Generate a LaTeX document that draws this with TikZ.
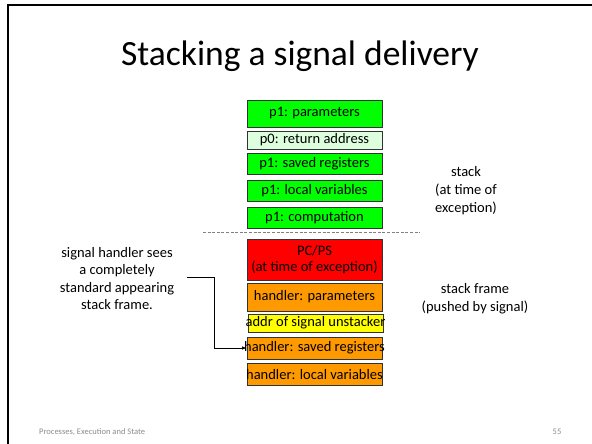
\documentclass[tikz,border=0pt]{standalone}
\usepackage{fontspec}
\setmainfont{Carlito}
\usetikzlibrary{arrows.meta}
\definecolor{boxline}{HTML}{333333}
\definecolor{framegreen}{HTML}{00FF00}
\definecolor{palegreen}{HTML}{DDFFDD}
\definecolor{framered}{HTML}{FF0000}
\definecolor{frameorange}{HTML}{FF9900}
\definecolor{frameyellow}{HTML}{FFFF00}
\definecolor{footgray}{HTML}{8C8C8C}
\definecolor{dashgray}{HTML}{808080}
\tikzset{
  stackbox/.style={draw=boxline, line width=0.9pt, minimum width=135pt,
    inner sep=0pt, font=\fontsize{14.5}{17}\selectfont},
  sidenote/.style={align=center, font=\fontsize{14.5}{18}\selectfont},
  pointer/.style={line width=0.7pt, -{Latex[length=4.5pt,width=3.5pt]}},
}
% fixed-width box label: the text may spill past the box edges
\newcommand{\spill}[1]{\makebox[0pt]{#1}}
\begin{document}
\begin{tikzpicture}[x=1pt,y=-1pt]
  \useasboundingbox (0,0) rectangle (592,444);
  \fill[white] (0,0) rectangle (592,444);
  % slide frame
  \draw[line width=2pt] (8,444) -- (8,5) -- (592,5);

  % title
  \node[anchor=base, font=\fontsize{35.5}{40}\selectfont] (title) at (300,65.5) {Stacking a signal delivery};

  % process p1 stack at the time of the exception
  \node[stackbox, fill=framegreen, minimum height=27pt] (p1par)  at (314.5,113.5) {\spill{p1: parameters}};
  \node[stackbox, fill=palegreen,  minimum height=18pt] (p0ret)  at (314.5,140)   {\spill{p0: return address}};
  \node[stackbox, fill=framegreen, minimum height=21pt] (p1save) at (314.5,163.5) {\spill{p1: saved registers}};
  \node[stackbox, fill=framegreen, minimum height=21pt] (p1loc)  at (314.5,190.5) {\spill{p1: local variables}};
  \node[stackbox, fill=framegreen, minimum height=21pt] (p1comp) at (314.5,217.5) {\spill{p1: computation}};

  % divider between the interrupted stack and the pushed frame
  \coordinate (divl) at (203,232);
  \coordinate (divr) at (420,232);
  \draw[dashgray, line width=1pt, dash pattern=on 3pt off 1.6pt] (divl) -- (divr);

  % frame pushed for the signal handler
  \node[stackbox, fill=framered, minimum height=41pt, align=center] (pcps) at (314.5,259.5) {PC/PS\\[-1pt](at time of exception)};
  \node[stackbox, fill=frameorange, minimum height=28pt] (hpar)   at (314.5,297)   {\spill{handler: parameters}};
  \node[stackbox, fill=frameyellow, minimum height=18pt] (unstk)  at (315.5,323)   {\spill{addr of signal unstacker}};
  \node[stackbox, fill=frameorange, minimum height=22pt] (hsave)  at (314.5,348)   {\spill{handler: saved registers}};
  \node[stackbox, fill=frameorange, minimum height=22.5pt] (hloc) at (314.5,374.5) {\spill{handler: local variables}};

  % side notes
  \node[sidenote] (stacknote) at (466,191) {stack\\(at time of\\exception)};
  \node[sidenote] (framenote) at (475,299) {stack frame\\(pushed by signal)};
  \node[align=center, font=\fontsize{14.5}{17.5}\selectfont] (handlernote) at (117,278.5)
    {signal handler sees\\a completely\\standard appearing\\stack frame.};

  % pointer from the note to the handler's saved registers
  \coordinate (ptail) at (187,277);
  \draw[pointer] (ptail) -- ++(27,0) |- (hsave.west);

  % footer
  \node[anchor=base west, text=footgray, font=\fontsize{8.5}{10}\selectfont, inner sep=0pt] (foot) at (39,434) {Processes, Execution and State};
  \node[anchor=base, text=footgray, font=\fontsize{8.5}{10}\selectfont, inner sep=0pt] (pagenum) at (557,434) {55};
\end{tikzpicture}
\end{document}
